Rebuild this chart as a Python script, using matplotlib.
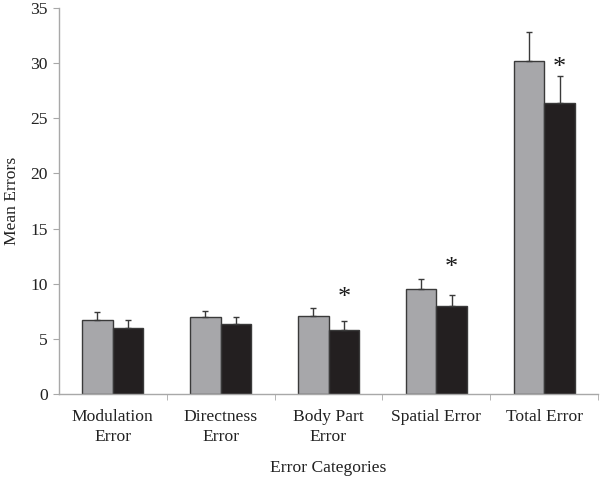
import numpy as np
import matplotlib.pyplot as plt

# Mean errors per category, two groups (gray / black), upper error bars only
categories = ["Modulation\nError", "Directness\nError", "Body Part\nError",
              "Spatial Error", "Total Error"]
gray_means = [6.7, 6.95, 7.05, 9.55, 30.2]
gray_err = [0.75, 0.55, 0.75, 0.9, 2.6]
black_means = [6.0, 6.35, 5.8, 7.95, 26.35]
black_err = [0.7, 0.6, 0.8, 1.0, 2.45]
star_y = [None, None, 8.7, 11.4, 29.6]  # significance markers

plt.rcParams['font.family'] = ['Liberation Serif', 'DejaVu Serif']

fig = plt.figure(figsize=(6, 4.78), dpi=100)
ax = fig.add_axes([0.098, 0.176, 0.899, 0.807])

x = np.arange(len(categories))
w = 0.285
axis_col = '#a8a8a8'
txt_col = '#222222'

ax.bar(x - w/2, gray_means, w, color='#a7a7aa', edgecolor='#3a3a3a', linewidth=1.0, zorder=2)
ax.bar(x + w/2, black_means, w, color='#231f20', edgecolor='#3a3a3a', linewidth=1.0, zorder=2)
ax.errorbar(x - w/2, gray_means, yerr=[np.zeros(len(x)), gray_err], fmt='none',
            ecolor='#3a3a3a', elinewidth=1.0, capsize=2.5, capthick=1.0, zorder=3)
ax.errorbar(x + w/2, black_means, yerr=[np.zeros(len(x)), black_err], fmt='none',
            ecolor='#3a3a3a', elinewidth=1.0, capsize=2.5, capthick=1.0, zorder=3)

for xi, sy in zip(x, star_y):
    if sy is not None:
        ax.text(xi + w/2, sy, '*', ha='center', va='center', fontsize=19, color='#1a1a1a')

ax.set_xlim(-0.5, len(categories) - 0.5)
ax.set_ylim(0, 35)
ax.set_yticks(np.arange(0, 36, 5))
ax.set_xticks(x)
ax.set_xticklabels(categories, fontsize=12.6, color=txt_col, linespacing=1.35)
ax.set_xticks(np.arange(0.5, len(categories), 1), minor=True)
ax.tick_params(axis='x', which='major', length=0, pad=11)
ax.tick_params(axis='x', which='minor', length=4, color=axis_col, direction='out')
ax.tick_params(axis='y', length=4, color=axis_col, labelsize=12.6, labelcolor=txt_col, pad=4)

for s in ['top', 'right']:
    ax.spines[s].set_visible(False)
for s in ['left', 'bottom']:
    ax.spines[s].set_color(axis_col)
    ax.spines[s].set_linewidth(1.0)

ax.set_ylabel("Mean Errors", fontsize=12.6, color=txt_col, va='center')
ax.yaxis.set_label_coords(-0.086, 0.5)
ax.set_xlabel("Error Categories", fontsize=12.6, color=txt_col, va='center')
ax.xaxis.set_label_coords(0.5, -0.192)

fig.savefig("out.png", dpi=100)
